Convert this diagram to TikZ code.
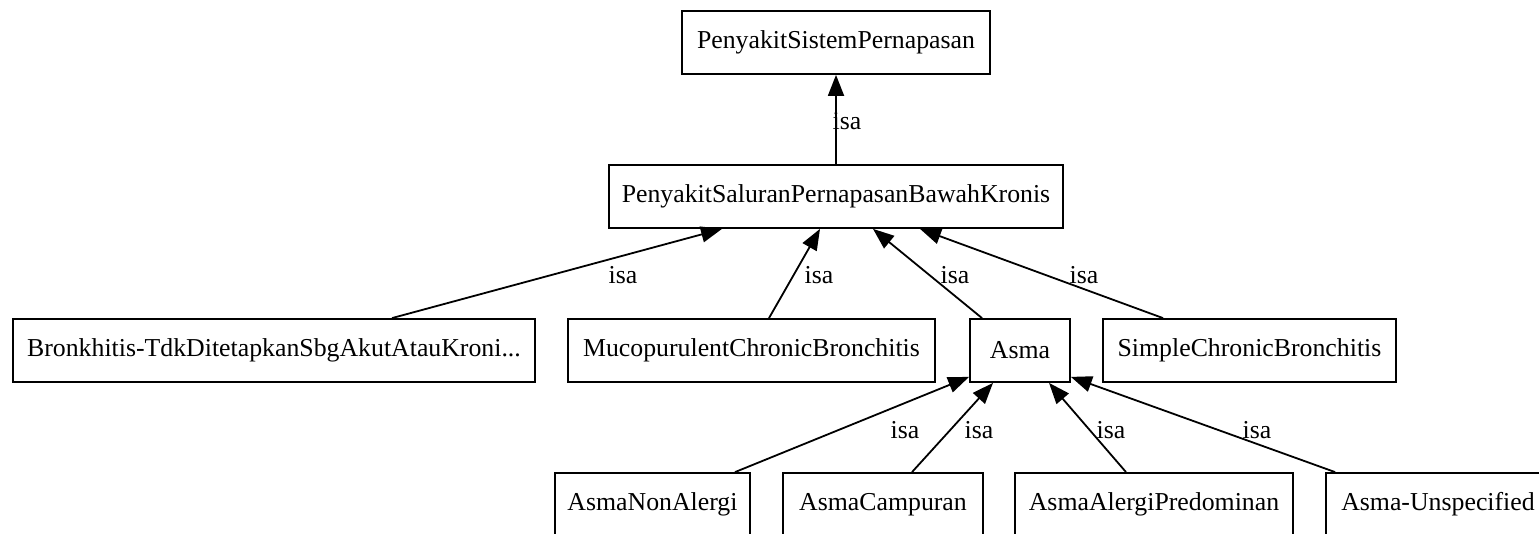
\documentclass[tikz,border=0pt]{standalone}
\usepackage{fontspec}
\setmainfont{Liberation Serif}
\usetikzlibrary{arrows.meta}
\begin{document}
\begin{tikzpicture}[x=1pt,y=-1pt,
  box/.style={draw=black,line width=1.8pt,rectangle,inner sep=0pt,minimum height=63pt,
    font=\fontsize{25.8}{30}\selectfont,fill=white},
  lbl/.style={inner sep=0pt,font=\fontsize{25.8}{30}\selectfont},
  isa/.style={draw=black,line width=1.8pt,-{Triangle[length=21pt,width=16pt]}}]
\useasboundingbox (0,0) rectangle (1539,534);
\fill[white] (0,0) rectangle (1539,534);
% nodes
\node[box,minimum width=308pt] (top) at (836,42.5) {PenyakitSistemPernapasan};
\node[box,minimum width=454pt] (mid) at (836,196.5) {PenyakitSaluranPernapasanBawahKronis};
\node[box,minimum width=522pt] (bronk) at (274,350.5) {Bronkhitis-TdkDitetapkanSbgAkutAtauKroni...};
\node[box,minimum width=367pt] (muco) at (751.5,350.5) {MucopurulentChronicBronchitis};
\node[box,minimum width=100pt] (asma) at (1020,350.5) {Asma};
\node[box,minimum width=293pt] (simple) at (1249.5,350.5) {SimpleChronicBronchitis};
\node[box,minimum width=195pt] (nonal) at (652.5,504.5) {AsmaNonAlergi};
\node[box,minimum width=200pt] (campur) at (883,504.5) {AsmaCampuran};
\node[box,minimum width=278pt] (alergi) at (1154,504.5) {AsmaAlergiPredominan};
\node[box,minimum width=224pt] (unspec) at (1438,504.5) {Asma-Unspecified};
% edges
\draw[isa] (mid.north) -- (top.south);
\draw[isa] ([xshift=118pt]bronk.north) -- ([xshift=-114pt]mid.south);
\draw[isa] ([xshift=17.5pt]muco.north) -- ([xshift=-16pt]mid.south);
\draw[isa] ([xshift=-38pt]asma.north) -- ([xshift=37pt]mid.south);
\draw[isa] ([xshift=-86.5pt]simple.north) -- ([xshift=84pt]mid.south);
\draw[isa] ([xshift=82.5pt]nonal.north) -- ([yshift=6pt]asma.south west);
\draw[isa] ([xshift=29pt]campur.north) -- ([xshift=-27pt]asma.south);
\draw[isa] ([xshift=-28pt]alergi.north) -- ([xshift=29pt]asma.south);
\draw[isa] ([xshift=10pt]unspec.north west) -- ([yshift=6pt]asma.south east);
% labels
\node[lbl] (l0) at (847,121) {isa};
\node[lbl] (l1) at (623,275) {isa};
\node[lbl] (l2) at (819,275) {isa};
\node[lbl] (l3) at (955,275) {isa};
\node[lbl] (l4) at (1084,275) {isa};
\node[lbl] (l5) at (905,430) {isa};
\node[lbl] (l6) at (979,430) {isa};
\node[lbl] (l7) at (1111,430) {isa};
\node[lbl] (l8) at (1257,430) {isa};
\end{tikzpicture}
\end{document}
